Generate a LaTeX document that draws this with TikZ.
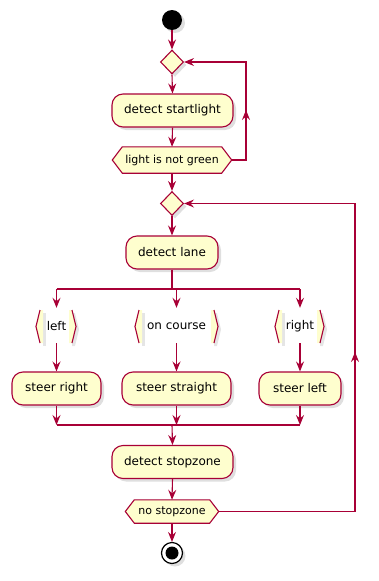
\documentclass[tikz,border=0pt]{standalone}
\usepackage{fontspec}
\setmainfont{DejaVu Sans}
\usetikzlibrary{arrows.meta,shadows,backgrounds,shapes.geometric}
\definecolor{pred}{HTML}{A80036}
\definecolor{pfill}{HTML}{FEFECE}
\tikzset{
  shd/.style={drop shadow={opacity=0.25, shadow xshift=3pt, shadow yshift=-3pt}},
  act/.style={draw=pred, fill=pfill, line width=1.1pt, rounded corners=11pt, minimum height=33pt, inner xsep=0pt, font=\fontsize{12}{14}\selectfont, shd},
  condtext/.style={font=\fontsize{11}{13}\selectfont, inner sep=0pt},
  lbl/.style={font=\fontsize{12}{14}\selectfont, inner sep=0pt, minimum height=33pt},
  dia/.style={diamond, draw=pred, fill=pfill, line width=1.1pt, minimum width=23pt, minimum height=24pt, inner sep=0pt, shd},
  flow/.style={draw=pred, line width=1.1pt, -{Stealth[length=10pt,width=8pt,inset=3.5pt]}},
  plain/.style={draw=pred, line width=1.1pt},
  hexa/.style={draw=pred, fill=pfill, line width=1.1pt, line join=miter},
  hexshadow/.style={fill=black, opacity=0.25},
  softshadow/.style={fill=black, opacity=0.1},
  brk/.style={draw=pred, line width=1.1pt},
  brkfill/.style={fill=pfill},
  startc/.style={circle, fill=black, minimum size=20pt, inner sep=0pt, shd},
  stopc/.style={circle, draw=black, fill=white, line width=1.2pt, minimum size=21pt, inner sep=0pt, shd},
  stopin/.style={circle, fill=black, minimum size=13pt, inner sep=0pt}
}
\begin{document}
\begin{tikzpicture}[x=1pt,y=-1pt]
\useasboundingbox (0,0) rectangle (379,581);
% nodes
\node[startc] (start) at (172,20) {};
\node[dia] (d1) at (172,62) {};
\node[act, minimum width=121pt] (a1) at (172.5,110.5) {detect startlight};
\node[condtext, minimum width=119pt, minimum height=26pt] (c1) at (172,160) {light is not green};
\node[dia] (d2) at (172,203.5) {};
\node[act, minimum width=92pt] (a2) at (172,252.5) {detect lane};
\node[lbl] (lL) at (56.5,326.5) {left};
\node[lbl] (lM) at (176.5,326.5) {on course};
\node[lbl] (lR) at (300,326.5) {right};
\node[act, minimum width=89pt] (b1) at (56.5,388.5) {steer right};
\node[act, minimum width=109pt] (b2) at (176.5,388.5) {steer straight};
\node[act, minimum width=82pt] (b3) at (300,388.5) {steer left};
\node[act, minimum width=121pt] (a3) at (172.5,462) {detect stopzone};
\node[condtext, minimum width=93pt, minimum height=23pt] (c2) at (172,511.5) {no stopzone};
\node[stopc] (stop) at (172,553) {};
\node[stopin] (stopdot) at (172,553) {};
% hexagons
\begin{scope}[on background layer]
  \fill[hexshadow, xshift=3pt, yshift=-3pt] (c1.west) -- ([xshift=10pt]c1.north west) -- ([xshift=-10pt]c1.north east) -- (c1.east) -- ([xshift=-10pt]c1.south east) -- ([xshift=10pt]c1.south west) -- cycle;
  \path[hexa] (c1.west) -- ([xshift=10pt]c1.north west) -- ([xshift=-10pt]c1.north east) -- (c1.east) -- ([xshift=-10pt]c1.south east) -- ([xshift=10pt]c1.south west) -- cycle;
  \fill[hexshadow, xshift=3pt, yshift=-3pt] (c2.west) -- ([xshift=9pt]c2.north west) -- ([xshift=-9pt]c2.north east) -- (c2.east) -- ([xshift=-9pt]c2.south east) -- ([xshift=9pt]c2.south west) -- cycle;
  \path[hexa] (c2.west) -- ([xshift=9pt]c2.north west) -- ([xshift=-9pt]c2.north east) -- (c2.east) -- ([xshift=-9pt]c2.south east) -- ([xshift=9pt]c2.south west) -- cycle;
  % label brackets
  \foreach \L/\R in {36/76, 135/218, 275/324} {
    \fill[softshadow] (\R-1,313) -- (\R+3,329.5) -- (\R-1,346) -- (\R-4,346) -- (\R-4,313) -- cycle;
    \fill[softshadow] (\L+7,313) -- (\L+10,313) -- (\L+10,346) -- (\L+7,346) -- cycle;
    \fill[brkfill] (\L+4,310) -- (\L,326.5) -- (\L+4,343) -- (\L+7,343) -- (\L+7,310) -- cycle;
    \fill[brkfill] (\R-4,310) -- (\R,326.5) -- (\R-4,343) -- (\R-7,343) -- (\R-7,310) -- cycle;
    \draw[brk] (\L+4,310) -- (\L,326.5) -- (\L+4,343);
    \draw[brk] (\R-4,310) -- (\R,326.5) -- (\R-4,343);
  }
\end{scope}
% coordinates
\coordinate (fork) at (172,289);
\coordinate (forkL) at (56.5,289);
\coordinate (forkR) at (300,289);
\coordinate (joinC) at (172,425);
\coordinate (l1a) at (246,160);
\coordinate (l1b) at (246,62);
\coordinate (l1m) at (246,110);
\coordinate (l2a) at (355,511.5);
\coordinate (l2b) at (355,203.5);
\coordinate (l2m) at (355,352);
% connectors
\draw[flow] (start) -- (d1.north);
\draw[flow] (d1.south) -- (a1.north);
\draw[flow] (a1.south) -- (c1.north);
\draw[flow] (c1.south) -- (d2.north);
\draw[flow] (d2.south) -- (a2.north);
\draw[plain] (a2.south) -- (fork);
\draw[plain] (forkL) -- (forkR);
\draw[flow] (forkL) -- ([yshift=2pt]lL.north);
\draw[flow] (lM.north |- fork) -- ([yshift=2pt]lM.north);
\draw[flow] (forkR) -- ([yshift=2pt]lR.north);
\draw[flow] (lL.south) -- (b1.north);
\draw[flow] (lM.south) -- (b2.north);
\draw[flow] (lR.south) -- (b3.north);
\draw[flow] (b1.south) -- (b1.south |- joinC);
\draw[flow] (b2.south) -- (b2.south |- joinC);
\draw[flow] (b3.south) -- (b3.south |- joinC);
\draw[plain] (b1.south |- joinC) -- (b3.south |- joinC);
\draw[flow] (joinC) -- (a3.north);
\draw[flow] (a3.south) -- (c2.north);
\draw[flow] (c2.south) -- (stop.north);
\draw[flow] (c1.east) -- (l1a) -- (l1b) -- (d1.east);
\draw[flow] (l1a) -- (l1m);
\draw[flow] (c2.east) -- (l2a) -- (l2b) -- (d2.east);
\draw[flow] (l2a) -- (l2m);
\end{tikzpicture}
\end{document}
